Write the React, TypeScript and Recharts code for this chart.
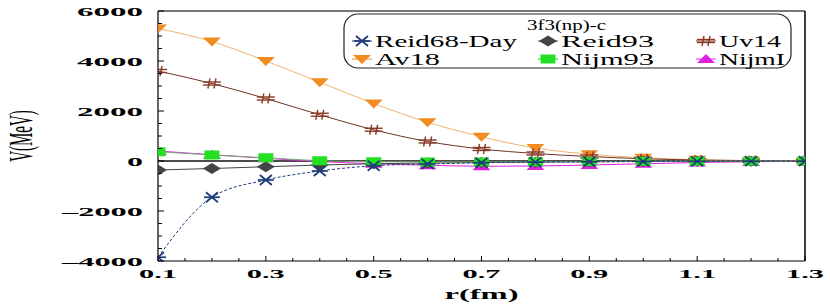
import React from 'react'
import { LineChart, Line, XAxis, YAxis, ReferenceLine, Legend } from 'recharts'

// r in fm, potentials in MeV (3f3 np channel, central part)
const rValues = [0.1, 0.2, 0.3, 0.4, 0.5, 0.6, 0.7, 0.8, 0.9, 1.0, 1.1, 1.2, 1.3]
const reid68Day = [-3850, -1450, -760, -400, -190, -120, -70, -45, -30, -20, -12, -8, -5]
const reid93 = [-360, -300, -230, -160, -110, -80, -60, -45, -30, -20, -12, -8, -5]
const uv14 = [3600, 3100, 2500, 1850, 1250, 780, 480, 300, 180, 90, 40, 15, 5]
const av18 = [5300, 4780, 4000, 3150, 2300, 1550, 970, 520, 270, 130, 50, 15, 5]
const nijm93 = [370, 240, 130, 10, -30, -40, -40, -35, -25, -15, -10, -5, -2]
const nijmI = [400, 250, 110, -20, -110, -170, -210, -200, -160, -110, -60, -30, -10]

const xMajor = [0.1, 0.3, 0.5, 0.7, 0.9, 1.1, 1.3]
const xMinor = [0.15, 0.2, 0.25, 0.35, 0.4, 0.45, 0.55, 0.6, 0.65, 0.75, 0.8, 0.85, 0.95, 1.0, 1.05, 1.15, 1.2, 1.25]
const yMajor = [-4000, -2000, 0, 2000, 4000, 6000]
const yMinor = [-3500, -3000, -2500, -1500, -1000, -500, 500, 1000, 1500, 2500, 3000, 3500, 4500, 5000, 5500]

const legendTitle = '3f3(np)-c'

const data = rValues.map((r, i) => ({
    r,
    reid68: reid68Day[i],
    reid93: reid93[i],
    uv14: uv14[i],
    av18: av18[i],
    nijm93: nijm93[i],
    nijmI: nijmI[i],
}))

const SERIF = '"Liberation Serif", "Times New Roman", Times, "DejaVu Serif", serif'
const C = {
    reid68: '#1d3b78',
    reid93: '#444444',
    uv14: '#8a3a24',
    uv14Line: '#6e3324',
    av18: '#f08c22',
    av18Line: '#f2b46a',
    nijm93: '#22e022',
    nijm93Line: '#77aa77',
    nijmI: '#e020e0',
}

type MarkProps = { cx?: number; cy?: number }

const StarMark = ({ cx = 0, cy = 0 }: MarkProps) => (
    <g stroke={C.reid68} strokeWidth={1.7}>
        <line x1={cx - 8} y1={cy} x2={cx + 8} y2={cy} />
        <line x1={cx - 6} y1={cy - 5} x2={cx + 6} y2={cy + 5} />
        <line x1={cx - 6} y1={cy + 5} x2={cx + 6} y2={cy - 5} />
    </g>
)
const DiamondMark = ({ cx = 0, cy = 0 }: MarkProps) => (
    <polygon points={`${cx - 9},${cy} ${cx},${cy - 5.5} ${cx + 9},${cy} ${cx},${cy + 5.5}`} fill={C.reid93} />
)
const HashMark = ({ cx = 0, cy = 0 }: MarkProps) => (
    <g stroke={C.uv14} strokeWidth={1.4}>
        <line x1={cx - 9} y1={cy - 1.5} x2={cx + 9} y2={cy - 1.5} />
        <line x1={cx - 9} y1={cy + 1.5} x2={cx + 9} y2={cy + 1.5} />
        <line x1={cx - 2} y1={cy - 5} x2={cx - 4} y2={cy + 5} />
        <line x1={cx + 4} y1={cy - 5} x2={cx + 2} y2={cy + 5} />
    </g>
)
const TriDownMark = ({ cx = 0, cy = 0 }: MarkProps) => (
    <polygon points={`${cx - 9},${cy - 4} ${cx + 9},${cy - 4} ${cx},${cy + 5}`} fill={C.av18} />
)
const SquareMark = ({ cx = 0, cy = 0 }: MarkProps) => (
    <rect x={cx - 7.5} y={cy - 4.5} width={15} height={9} fill={C.nijm93} />
)
const TriUpMark = ({ cx = 0, cy = 0 }: MarkProps) => (
    <polygon points={`${cx - 9},${cy + 4} ${cx + 9},${cy + 4} ${cx},${cy - 5}`} fill={C.nijmI} />
)

const dotOf = (Mark: React.FC<MarkProps>) => (p: any) => <Mark key={`m-${p.index}`} cx={p.cx} cy={p.cy} />

const isIn = (list: number[], v: number) => list.some(t => Math.abs(t - v) < 1e-6)

// the reference glyphs are stretched wide, so every axis text is given an explicit width
const XTick = (props: any) => {
    const { x, y, payload } = props
    const major = isIn(xMajor, payload.value)
    const w = 38
    return (
        <g>
            <line x1={x} y1={y} x2={x} y2={y - (major ? 5 : 3)} stroke="#000" strokeWidth={1} />
            {major && (
                <text x={x - w / 2} y={y + 17} textLength={w} lengthAdjust="spacingAndGlyphs" style={{ fontFamily: SERIF }} fontWeight="bold" fontSize={13} fill="#000">
                    {payload.value.toFixed(1)}
                </text>
            )}
        </g>
    )
}

const YTick = (props: any) => {
    const { x, y, payload } = props
    const major = isIn(yMajor, payload.value)
    const label = payload.value < 0 ? `\u2013${Math.abs(payload.value)}` : `${payload.value}`
    const w = payload.value === 0 ? 16 : payload.value < 0 ? 81 : 66
    return (
        <g>
            <line x1={x} y1={y} x2={x + (major ? 6 : 4)} y2={y} stroke="#000" strokeWidth={1} />
            {major && (
                <text x={x - 15 - w} y={y + 4.5} textLength={w} lengthAdjust="spacingAndGlyphs" style={{ fontFamily: SERIF }} fontWeight="bold" fontSize={13} fill="#000">
                    {label}
                </text>
            )}
        </g>
    )
}

const XLabel = ({ viewBox }: any) => (
    <text x={viewBox.x + viewBox.width / 2 - 37} y={viewBox.y + 38} textLength={74} lengthAdjust="spacingAndGlyphs" style={{ fontFamily: SERIF }} fontWeight="bold" fontSize={15} fill="#000">
        r(fm)
    </text>
)

const YLabel = ({ viewBox }: any) => (
    <g transform={`translate(${viewBox.x + 32},${viewBox.y + viewBox.height / 2}) scale(2.2,1)`}>
        <text transform="rotate(-90)" textAnchor="middle" style={{ fontFamily: SERIF }} fontSize={15} fill="#000">
            V(MeV)
        </text>
    </g>
)

const legendItems = [
    { name: 'Reid68-Day', Mark: StarMark, line: C.reid68, col: 0, row: 0, w: 142 },
    { name: 'Reid93', Mark: DiamondMark, line: C.reid93, col: 1, row: 0, w: 93 },
    { name: 'Uv14', Mark: HashMark, line: C.uv14, col: 2, row: 0, w: 62 },
    { name: 'Av18', Mark: TriDownMark, line: C.av18, col: 0, row: 1, w: 65 },
    { name: 'Nijm93', Mark: SquareMark, line: C.nijm93, col: 1, row: 1, w: 93 },
    { name: 'NijmI', Mark: TriUpMark, line: C.nijmI, col: 2, row: 1, w: 66 },
]
const colX = [19, 205, 363]
const rowY = [28, 46]

const LegendBox = () => (
    <svg width={450} height={57} style={{ display: 'block' }}>
        <rect x={1} y={1} width={447} height={54} rx={14} ry={14} fill="#fff" stroke="#222" strokeWidth={1.2} />
        <text x={184} y={17} textLength={79} lengthAdjust="spacingAndGlyphs" style={{ fontFamily: SERIF }} fontSize={15} fill="#000">
            {legendTitle}
        </text>
        {legendItems.map(it => {
            const cx = colX[it.col]
            const cy = rowY[it.row]
            return (
                <g key={it.name}>
                    <line x1={cx - 10} y1={cy} x2={cx + 10} y2={cy} stroke={it.line} strokeWidth={1} />
                    <it.Mark cx={cx} cy={cy} />
                    <text x={cx + 13} y={cy + 5.5} textLength={it.w} lengthAdjust="spacingAndGlyphs" style={{ fontFamily: SERIF }} fontSize={16} fill="#000">
                        {it.name}
                    </text>
                </g>
            )
        })}
    </svg>
)

export default function App() {
    return (
        <div style={{ position: 'absolute', left: 0, top: 0, width: 830, height: 306, background: '#fff' }}>
            <LineChart width={830} height={306} data={data} margin={{ top: 11, right: 25, left: 0, bottom: 0 }}>
                <XAxis
                    dataKey="r"
                    type="number"
                    domain={[0.1, 1.3]}
                    ticks={[...xMajor, ...xMinor].sort((a, b) => a - b)}
                    interval={0}
                    allowDataOverflow
                    height={45}
                    tickSize={0}
                    tickMargin={0}
                    tickLine={false}
                    axisLine={{ stroke: '#000', strokeWidth: 1.2 }}
                    tick={<XTick />}
                    label={<XLabel />}
                />
                <YAxis
                    type="number"
                    domain={[-4000, 6000]}
                    ticks={[...yMajor, ...yMinor].sort((a, b) => a - b)}
                    interval={0}
                    allowDataOverflow
                    width={158}
                    tickSize={0}
                    tickMargin={0}
                    tickLine={false}
                    axisLine={{ stroke: '#000', strokeWidth: 1.2 }}
                    tick={<YTick />}
                    label={<YLabel />}
                />
                <ReferenceLine y={6000} stroke="#777" strokeWidth={2} />
                <ReferenceLine x={1.3} stroke="#000" strokeWidth={1.5} />
                <ReferenceLine y={0} stroke="#111" strokeWidth={1.5} />
                <Line dataKey="av18" name="Av18" type="monotone" stroke={C.av18Line} strokeWidth={1} dot={dotOf(TriDownMark)} activeDot={false} isAnimationActive={false} />
                <Line dataKey="uv14" name="Uv14" type="monotone" stroke={C.uv14Line} strokeWidth={1} dot={dotOf(HashMark)} activeDot={false} isAnimationActive={false} />
                <Line dataKey="nijmI" name="NijmI" type="monotone" stroke={C.nijmI} strokeWidth={1} dot={dotOf(TriUpMark)} activeDot={false} isAnimationActive={false} />
                <Line dataKey="reid93" name="Reid93" type="monotone" stroke={C.reid93} strokeWidth={1} dot={dotOf(DiamondMark)} activeDot={false} isAnimationActive={false} />
                <Line dataKey="nijm93" name="Nijm93" type="monotone" stroke={C.nijm93Line} strokeWidth={1} dot={dotOf(SquareMark)} activeDot={false} isAnimationActive={false} />
                <Line dataKey="reid68" name="Reid68-Day" type="monotone" stroke={C.reid68} strokeWidth={1} strokeDasharray="3 2" dot={dotOf(StarMark)} activeDot={false} isAnimationActive={false} />
                <Legend layout="horizontal" verticalAlign="middle" content={() => <LegendBox />} wrapperStyle={{ left: 343, top: 13, width: 450, height: 57 }} />
            </LineChart>
        </div>
    )
}
